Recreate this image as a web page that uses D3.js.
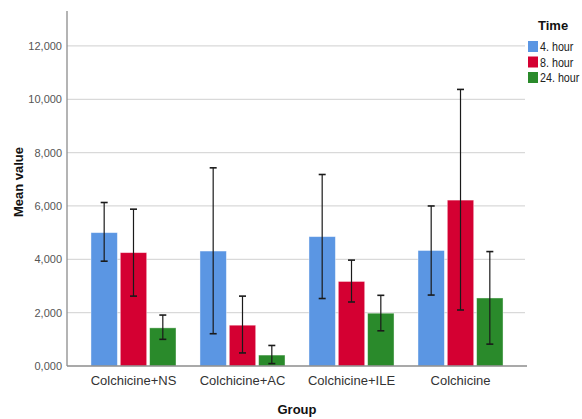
<!DOCTYPE html>
<html>
<head>
<meta charset="utf-8">
<script src="https://cdn.jsdelivr.net/npm/d3@7"></script>
<style>
  body { margin: 0; background: #fff; }
  svg { font-family: "Liberation Sans", Arial, sans-serif; }
</style>
</head>
<body>
<div id="graph"></div>
<script>
// Chart data
const groups = ["Colchicine+NS", "Colchicine+AC", "Colchicine+ILE", "Colchicine"];
const times = ["4. hour", "8. hour", "24. hour"];
const means = [
  [5000, 4250, 1430],
  [4310, 1530, 410],
  [4850, 3170, 1980],
  [4330, 6220, 2550]
];
const errLow = [
  [3930, 2620, 1000],
  [1210, 490, 90],
  [2530, 2400, 1320],
  [2660, 2100, 820]
];
const errHigh = [
  [6130, 5880, 1910],
  [7430, 2620, 770],
  [7180, 3970, 2650],
  [6000, 10370, 4290]
];
const yTicks = [0, 2000, 4000, 6000, 8000, 10000, 12000];
const colors = ["#5b96e3", "#d40032", "#2a8a2b"];

const width = 582, height = 419;
const plotLeft = 67, plotRight = 527, plotTop = 11, plotBottom = 366;

let svg = d3.select("#graph")
  .append("svg")
  .attr("width", width)
  .attr("height", height);

let y = d3.scaleLinear()
  .domain([0, 13310])
  .range([plotBottom, plotTop]);

let x0 = d3.scaleBand()
  .domain(groups)
  .range([plotLeft, plotRight])
  .paddingInner(0.22)
  .paddingOuter(0.22);

let x1 = d3.scaleBand()
  .domain(times)
  .range([0, x0.bandwidth()])
  .paddingInner(0.1);

let color = d3.scaleOrdinal().domain(times).range(colors);

// gridlines
svg.append("g")
  .selectAll("line")
  .data(yTicks.filter(d => d > 0))
  .enter()
  .append("line")
  .attr("x1", plotLeft)
  .attr("x2", plotRight - 2)
  .attr("y1", d => y(d))
  .attr("y2", d => y(d))
  .attr("stroke", "#d9d9d9")
  .attr("stroke-width", 1.3);

// y axis, SPSS style "0,000" labels
let yAxis = d3.axisLeft(y)
  .tickValues(yTicks)
  .tickSize(0)
  .tickPadding(5)
  .tickFormat(d => d === 0 ? "0,000" : d3.format(",")(d));

let yG = svg.append("g")
  .attr("transform", "translate(" + plotLeft + ",0)")
  .call(yAxis);
yG.selectAll("text")
  .attr("font-size", 11)
  .attr("fill", "#555")
  .attr("font-family", "Liberation Sans, Arial, sans-serif");
yG.select(".domain").remove();

// bars
let gGroups = svg.append("g")
  .selectAll("g")
  .data(groups)
  .enter()
  .append("g")
  .attr("transform", d => "translate(" + x0(d) + ",0)");

gGroups.selectAll("rect")
  .data((g, i) => times.map((t, j) => ({ t: t, v: means[i][j] })))
  .enter()
  .append("rect")
  .attr("x", d => x1(d.t))
  .attr("y", d => y(d.v))
  .attr("width", x1.bandwidth())
  .attr("height", d => y(0) - y(d.v))
  .attr("fill", d => color(d.t))
  .attr("stroke", "#ffffff")
  .attr("stroke-opacity", 0.5)
  .attr("stroke-width", 0.8);

// error bars
let errs = gGroups.selectAll("g.err")
  .data((g, i) => times.map((t, j) => ({ t: t, lo: errLow[i][j], hi: errHigh[i][j] })))
  .enter()
  .append("g")
  .attr("class", "err")
  .attr("transform", d => "translate(" + (x1(d.t) + x1.bandwidth() / 2) + ",0)");

errs.append("line")
  .attr("x1", 0).attr("x2", 0)
  .attr("y1", d => y(d.lo))
  .attr("y2", d => y(d.hi))
  .attr("stroke", "#1a1a1a")
  .attr("stroke-width", 1.2);
errs.append("line")
  .attr("x1", -3.5).attr("x2", 3.5)
  .attr("y1", d => y(d.hi))
  .attr("y2", d => y(d.hi))
  .attr("stroke", "#1a1a1a")
  .attr("stroke-width", 1.6);
errs.append("line")
  .attr("x1", -3.5).attr("x2", 3.5)
  .attr("y1", d => y(d.lo))
  .attr("y2", d => y(d.lo))
  .attr("stroke", "#1a1a1a")
  .attr("stroke-width", 1.6);

// axis lines
svg.append("line")
  .attr("x1", plotLeft).attr("x2", plotLeft)
  .attr("y1", plotTop).attr("y2", plotBottom)
  .attr("stroke", "#8c8c8c").attr("stroke-width", 1.3);
svg.append("line")
  .attr("x1", plotLeft).attr("x2", plotRight)
  .attr("y1", plotBottom).attr("y2", plotBottom)
  .attr("stroke", "#8c8c8c").attr("stroke-width", 1.3);

// x axis labels
let xAxis = d3.axisBottom(x0).tickSize(0).tickPadding(10);
let xG = svg.append("g")
  .attr("transform", "translate(0," + plotBottom + ")")
  .call(xAxis);
xG.select(".domain").remove();
xG.selectAll("text")
  .attr("font-size", 13)
  .attr("fill", "#333")
  .attr("font-family", "Liberation Sans, Arial, sans-serif");

// axis titles
svg.append("text")
  .attr("x", 297)
  .attr("y", 414)
  .attr("text-anchor", "middle")
  .attr("font-size", 13)
  .attr("font-weight", "bold")
  .attr("fill", "#111")
  .text("Group");

svg.append("text")
  .attr("transform", "translate(23,182) rotate(-90)")
  .attr("text-anchor", "middle")
  .attr("font-size", 13)
  .attr("font-weight", "bold")
  .attr("fill", "#111")
  .text("Mean value");

// legend
svg.append("text")
  .attr("x", 538)
  .attr("y", 30)
  .attr("font-size", 13)
  .attr("font-weight", "bold")
  .attr("fill", "#111")
  .text("Time");

let leg = svg.append("g")
  .selectAll("g")
  .data(times)
  .enter()
  .append("g")
  .attr("transform", (d, i) => "translate(528," + (41 + i * 15.5) + ")");
leg.append("rect")
  .attr("width", 10)
  .attr("height", 11)
  .attr("fill", d => color(d));
// legend labels are set in a condensed face in the original
leg.append("text")
  .attr("transform", "translate(12,10) scale(0.86,1)")
  .attr("font-size", 12.5)
  .attr("fill", "#222")
  .text(d => d);
</script>
</body>
</html>
